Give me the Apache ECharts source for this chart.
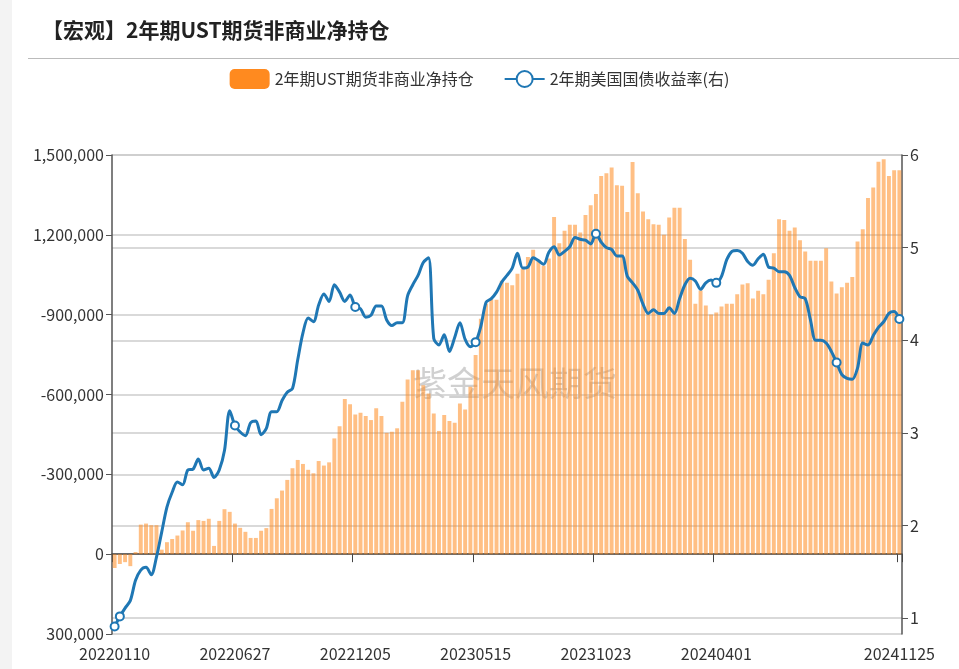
<!DOCTYPE html>
<html>
<head>
<meta charset="utf-8">
<script src="https://cdn.jsdelivr.net/npm/echarts@6/dist/echarts.min.js"></script>
<style>
  html, body { margin: 0; padding: 0; background: #fff; }
  #strip { position: absolute; left: 0; top: 0; width: 12px; height: 669px; background: #f3f3f3; }
  #title { position: absolute; left: 42px; top: 14px; font: bold 21px "Noto Sans CJK SC", sans-serif; color: #222; }
  #rule { position: absolute; left: 28px; right: 0; top: 58px; height: 1px; background: #bbb; }
  #chart { width: 959px; height: 669px; }
</style>
</head>
<body>
<div id="strip"></div>
<div id="chart"></div>
<div id="title">【宏观】2年期UST期货非商业净持仓</div>
<div id="rule"></div>
<script>
// 2年期UST期货非商业净持仓 (合约)
const netPosition = [
  -52000, -37000, -30000, -45000, 8000, 111000, 115000, 109000, 109000, 17000,
  45000, 57000, 70000, 89000, 120000, 88000, 128000, 125000, 133000, 31000,
  125000, 169000, 159000, 115000, 99000, 84000, 61000, 61000, 88000, 98000,
  170000, 210000, 239000, 279000, 323000, 354000, 339000, 317000, 304000, 350000,
  333000, 345000, 435000, 481000, 583000, 563000, 525000, 531000, 519000, 504000,
  548000, 519000, 456000, 460000, 473000, 573000, 656000, 691000, 691000, 635000,
  604000, 529000, 463000, 523000, 500000, 494000, 566000, 544000, 629000, 748000,
  885000, 941000, 958000, 956000, 1027000, 1020000, 1011000, 1054000,
  1072000, 1117000, 1144000, 1105000, 1084000, 1111000, 1267000, 1168000, 1215000, 1238000,
  1238000, 1209000, 1275000, 1311000, 1353000, 1421000, 1431000, 1453000, 1386000, 1384000,
  1286000, 1474000, 1356000, 1288000, 1259000, 1240000, 1238000, 1200000, 1265000, 1302000,
  1302000, 1184000, 1106000, 941000, 991000,
  934000, 901000, 908000, 931000, 941000, 941000, 977000, 1013000, 1018000, 961000,
  990000, 977000, 1031000, 1131000, 1259000, 1256000, 1215000, 1228000, 1180000, 1137000,
  1103000, 1103000, 1103000, 1150000, 1025000, 980000, 1003000, 1020000, 1042000, 1175000,
  1221000, 1338000, 1378000, 1475000, 1484000, 1421000, 1443000, 1443000
];
// 2年期美国国债收益率 (%)
const yield2y = [
  0.91, 1.02, 1.11, 1.19, 1.41, 1.52, 1.55, 1.47, 1.66, 1.93,
  2.20, 2.36, 2.47, 2.44, 2.60, 2.61, 2.72, 2.60, 2.62, 2.52,
  2.60, 2.81, 3.24, 3.08, 3.01, 2.97, 3.11, 3.13, 2.98, 3.05,
  3.23, 3.23, 3.35, 3.44, 3.48, 3.79, 4.08, 4.24, 4.20, 4.38,
  4.50, 4.42, 4.60, 4.52, 4.42, 4.49, 4.36, 4.34, 4.25, 4.27,
  4.37, 4.37, 4.22, 4.16, 4.19, 4.19, 4.48, 4.60, 4.70, 4.84,
  4.89, 4.02, 3.95, 4.06, 3.88, 4.03, 4.19, 4.01, 3.93, 3.98,
  4.15, 4.41, 4.45, 4.52, 4.63, 4.70, 4.78, 4.94,
  4.78, 4.79, 4.89, 4.86, 4.82, 4.95, 5.01, 4.92, 4.96, 5.01,
  5.11, 5.09, 5.08, 5.04, 5.15, 5.06, 5.00, 4.98, 4.91, 4.91,
  4.69, 4.62, 4.54, 4.39, 4.29, 4.33, 4.29, 4.29, 4.35, 4.29,
  4.45, 4.60, 4.67, 4.64, 4.55,
  4.62, 4.65, 4.62, 4.69, 4.87, 4.96, 4.97, 4.94, 4.85, 4.81,
  4.88, 4.93, 4.79, 4.78, 4.74, 4.74, 4.70, 4.57, 4.47, 4.45,
  4.22, 4.00, 4.00, 3.97, 3.88, 3.76, 3.63, 3.59, 3.58, 3.70,
  3.97, 3.95, 4.05, 4.14, 4.20, 4.29, 4.31, 4.23
];
// x轴显示的日期标签 (按数据序号)
const tickIndex = [0, 23, 46, 69, 92, 115, 150];
const tickLabels = ['20220110', '20220627', '20221205', '20230515', '20231023', '20240401', '20241125'];
// 右轴刻度
const rightTicks = [1, 2, 3, 4, 5, 6];
// 折线上的空心点
const markerIndex = [0, 1, 23, 46, 69, 92, 115, 138, 150];

const leftLabels = { '-300000': '300,000', '0': '0', '300000': '-300,000', '600000': '-600,000',
  '900000': '-900,000', '1200000': '1,200,000', '1500000': '1,500,000' };

const categories = netPosition.map((v, i) => {
  const k = tickIndex.indexOf(i);
  return k >= 0 ? tickLabels[k] : 'w' + i;
});

const chart = echarts.init(document.getElementById('chart'));
const font = '"Noto Sans CJK SC", sans-serif';

chart.setOption({
  animation: false,
  textStyle: { fontFamily: font },
  graphic: [{
    type: 'text', left: 413, top: 366,
    style: { text: '紫金天风期货', fontSize: 34, fill: 'rgba(120,120,120,0.35)', fontFamily: font }
  }],
  legend: {
    top: 64, left: 'center', itemGap: 30, itemWidth: 40, itemHeight: 20,
    textStyle: { fontSize: 16, color: '#333' },
    data: [
      { name: '2年期UST期货非商业净持仓', icon: 'roundRect', itemStyle: { color: '#ff8a1f', opacity: 1 } },
      { name: '2年期美国国债收益率(右)',
        itemStyle: { color: '#fff', borderColor: '#1f77b4', borderWidth: 2 } }
    ]
  },
  grid: { left: 112, right: 57, top: 155, bottom: 35, containLabel: false, outerBoundsMode: 'none' },
  xAxis: {
    type: 'category',
    data: categories,
    boundaryGap: true,
    axisLine: { onZero: true, lineStyle: { color: '#444', width: 1.5 } },
    axisTick: { show: true, length: 8, interval: (i) => tickIndex.includes(i), lineStyle: { color: '#444' } },
    axisLabel: {
      interval: (i) => tickIndex.includes(i), margin: 12,
      fontSize: 16, color: '#333',
      formatter: (v) => tickLabels.includes(v) ? v : ''
    }
  },
  yAxis: [{
    type: 'value', min: -300000, max: 1500000, interval: 300000,
    axisLine: { show: true, lineStyle: { color: '#555', width: 1.5 } },
    axisTick: { show: true, length: 6 },
    axisLabel: { fontSize: 16, color: '#333', formatter: (v) => leftLabels[String(v)] },
    splitLine: { lineStyle: { color: '#ccc', width: 1.5 } }
  }, {
    type: 'value', min: 0.83, max: 6,
    axisLine: { show: true, lineStyle: { color: '#555', width: 1.5 } },
    axisTick: { show: true, length: 6, customValues: rightTicks },
    axisLabel: { fontSize: 16, color: '#333', customValues: rightTicks, formatter: (v) => String(v) },
    splitLine: { show: true, lineStyle: { color: '#ccc', width: 1.5 } }
  }],
  series: [{
    name: '2年期UST期货非商业净持仓',
    type: 'bar',
    data: netPosition,
    barCategoryGap: '25%',
    itemStyle: { color: '#ff8a1f', opacity: 0.55 }
  }, {
    name: '2年期美国国债收益率(右)',
    type: 'line',
    yAxisIndex: 1,
    data: yield2y,
    smooth: 0.3,
    symbol: (v, p) => markerIndex.includes(p.dataIndex) ? 'emptyCircle' : 'none',
    symbolSize: 8,
    showAllSymbol: true,
    lineStyle: { color: '#1f77b4', width: 3 },
    itemStyle: { color: '#1f77b4', borderWidth: 1.5 }
  }]
});
</script>
</body>
</html>
